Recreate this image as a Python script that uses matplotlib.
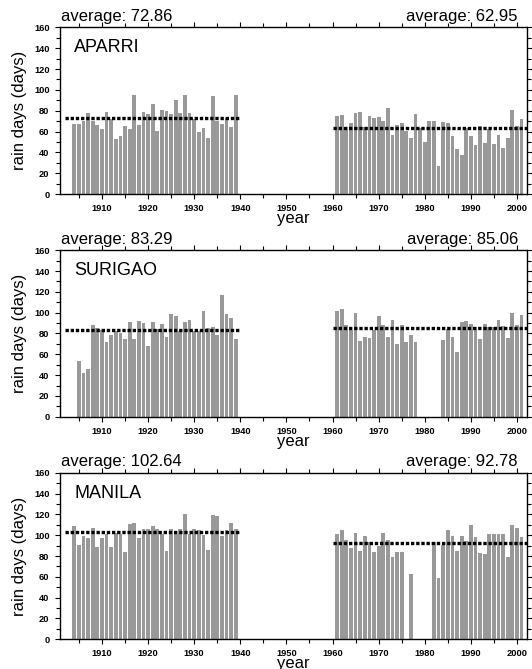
import numpy as np
import matplotlib
matplotlib.use("Agg")
import matplotlib.pyplot as plt
from matplotlib.ticker import MultipleLocator

plt.rcParams['font.family'] = ['Liberation Sans', 'DejaVu Sans']

# rain days per year
aparri_years = list(range(1904, 1940)) + list(range(1961, 2002))
aparri_days = [67, 67, 70, 78, 70, 66, 62, 79, 72, 53, 56, 65, 62, 95, 66, 79, 77, 86,
               61, 81, 80, 77, 90, 78, 95, 78, 72, 60, 63, 54, 94, 70, 67, 73, 64, 95,
               75, 76, 64, 68, 78, 79, 64, 75, 73, 74, 70, 83, 57, 66, 68, 61, 54, 77,
               63, 50, 70, 70, 27, 69, 68, 56, 43, 37, 63, 56, 47, 65, 49, 62, 48, 57,
               44, 54, 81, 65, 72]
aparri_avg = [72.86, 62.95]

surigao_years = list(range(1905, 1940)) + list(range(1961, 1979)) + list(range(1984, 2002))
surigao_days = [54, 42, 46, 88, 85, 83, 72, 79, 82, 80, 75, 91, 75, 92, 90, 68, 91, 84,
                89, 77, 99, 97, 82, 91, 93, 82, 82, 102, 85, 86, 79, 117, 99, 95, 75,
                102, 104, 88, 83, 100, 73, 77, 76, 83, 97, 88, 77, 93, 70, 88, 72, 79, 72,
                74, 84, 77, 62, 91, 92, 89, 86, 75, 89, 86, 86, 93, 87, 76, 100, 88, 98]
surigao_avg = [83.29, 85.06]

manila_years = list(range(1904, 1940)) + list(range(1961, 1976)) + [1977] + list(range(1982, 2002))
manila_days = [109, 91, 99, 97, 107, 89, 97, 101, 89, 102, 101, 84, 111, 112, 97, 106, 106, 109,
               106, 101, 85, 106, 101, 106, 120, 101, 106, 105, 100, 86, 119, 118, 99, 105, 112, 106,
               101, 105, 95, 88, 102, 85, 99, 93, 84, 90, 102, 95, 79, 84, 84,
               63,
               93, 59, 91, 105, 99, 85, 99, 94, 110, 98, 83, 82, 101, 101, 101, 101, 79, 110, 107, 98]
manila_avg = [102.64, 92.78]

station_names = ["APARRI", "SURIGAO", "MANILA"]
periods = [(1902, 1940), (1960, 2002.5)]

stations = [
    (aparri_years, aparri_days, aparri_avg),
    (surigao_years, surigao_days, surigao_avg),
    (manila_years, manila_days, manila_avg),
]

fig = plt.figure(figsize=(5.32, 6.69), dpi=100)
bottoms = [0.710, 0.377, 0.0444]

for name, (yrs, vals, avgs), b in zip(station_names, stations, bottoms):
    ax = fig.add_axes([0.1128, b, 0.878, 0.249])
    ax.bar(yrs, vals, width=0.82, color='#999999', linewidth=0)
    for (x0, x1), a in zip(periods, avgs):
        ax.plot([x0, x1], [a, a], color='k', lw=2.4, ls=(0, (1, 0.55)), solid_capstyle='butt')

    ax.set_xlim(1900.9, 2002.2)
    ax.set_ylim(0, 160)
    ax.xaxis.set_major_locator(MultipleLocator(10))
    ax.xaxis.set_minor_locator(MultipleLocator(5))
    ax.yaxis.set_major_locator(MultipleLocator(20))
    ax.yaxis.set_minor_locator(MultipleLocator(10))
    ax.tick_params(which='both', direction='out', top=True, right=True, width=0.8)
    ax.tick_params(which='major', length=3.5, labelsize=6.7, pad=3.5)
    ax.tick_params(axis='y', which='major', pad=4)
    ax.tick_params(which='minor', length=3)
    for lbl in ax.get_xticklabels() + ax.get_yticklabels():
        lbl.set_fontweight('bold')
    for sp in ax.spines.values():
        sp.set_linewidth(1.0)

    ax.set_xlabel('year', fontsize=12, labelpad=-1.2)
    ax.set_ylabel('rain days (days)', fontsize=12, labelpad=5)
    ax.text(0.03, 0.85, name, transform=ax.transAxes, fontsize=13, va='baseline')
    ax.text(0.002, 1.04, 'average: %.2f' % avgs[0], transform=ax.transAxes,
            fontsize=12, va='baseline', ha='left')
    ax.text(0.98, 1.04, 'average: %.2f' % avgs[1], transform=ax.transAxes,
            fontsize=12, va='baseline', ha='right')

fig.savefig('out.png', dpi=100)
